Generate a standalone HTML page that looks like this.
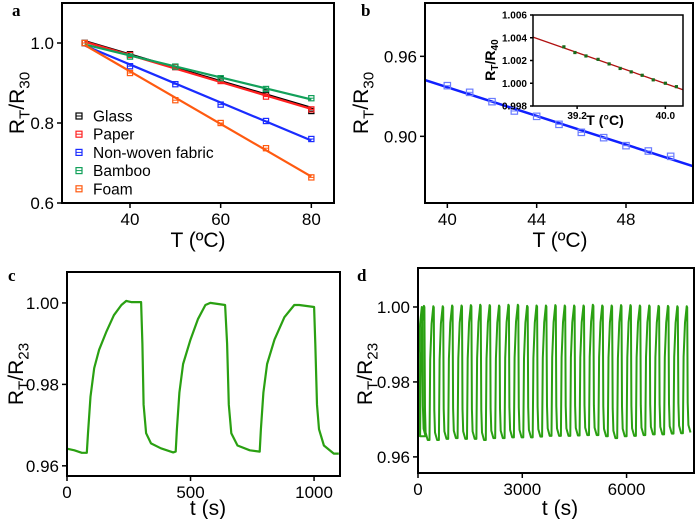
<!DOCTYPE html>
<html><head><meta charset="utf-8">
<style>
html,body{margin:0;padding:0;background:#fff;}
svg{display:block;font-family:"Liberation Sans",Arial,sans-serif;}
</style></head>
<body>
<svg id="fig" width="700" height="519" viewBox="0 0 700 519" xmlns="http://www.w3.org/2000/svg"></svg>
<script>
// ---------- Panel a data ----------
const aTemps = [30, 40, 50, 60, 70, 80];
const aSeriesNames = ["Glass", "Paper", "Non-woven fabric", "Bamboo", "Foam"];
const aGlass = [1, 0.972, 0.940, 0.910, 0.876, 0.830];
const aPaper = [1, 0.970, 0.940, 0.905, 0.866, 0.834];
const aNonwoven = [1, 0.942, 0.897, 0.846, 0.805, 0.760];
const aBamboo = [1, 0.966, 0.941, 0.912, 0.885, 0.862];
const aFoam = [1, 0.925, 0.857, 0.800, 0.737, 0.664];
const aColors = ["#000000", "#ff2020", "#1a2cff", "#12a05a", "#ff5a10"];
const aXTicks = [40, 60, 80];
const aYTicks = [0.6, 0.8, 1.0];
const aYTickLabels = ["0.6", "0.8", "1.0"];
// ---------- Panel b data ----------
const bTemps = [40, 41, 42, 43, 44, 45, 46, 47, 48, 49, 50];
const bValues = [0.938, 0.933, 0.926, 0.919, 0.915, 0.909, 0.903, 0.899, 0.893, 0.889, 0.885];
const bXTicks = [40, 44, 48];
const bYTicks = [0.90, 0.96];
const bYTickLabels = ["0.90", "0.96"];
const insetTemps = [39.08, 39.18, 39.28, 39.39, 39.49, 39.59, 39.69, 39.79, 39.89, 40.0, 40.1];
const insetValues = [1.0032, 1.0027, 1.0024, 1.0021, 1.0017, 1.0013, 1.0010, 1.0007, 1.0003, 1.0000, 0.9997];
const insetXTicks = [39.2, 40.0];
const insetYTicks = [0.998, 1.000, 1.002, 1.004, 1.006];
const insetYTickLabels = ["0.998", "1.000", "1.002", "1.004", "1.006"];
// ---------- Panel c data ----------
const cTimes = [0,30,60,80,85,95,110,130,160,190,220,240,260,300,305,310,320,340,380,430,440,445,455,470,500,530,560,580,640,648,655,665,690,740,780,785,795,810,840,880,920,940,1000,1005,1012,1020,1040,1080,1100];
const cValues = [0.9642,0.9638,0.9632,0.9632,0.968,0.977,0.984,0.9885,0.993,0.997,0.9995,1.0005,1.0002,1.0002,0.990,0.975,0.968,0.9655,0.9643,0.9633,0.9635,0.969,0.978,0.985,0.991,0.996,0.9995,1.000,0.9995,0.990,0.975,0.968,0.965,0.9638,0.9635,0.969,0.978,0.985,0.991,0.9965,0.9995,0.9995,0.999,0.990,0.975,0.969,0.965,0.963,0.963];
const cXTicks = [0, 500, 1000];
const cYTicks = [0.96, 0.98, 1.00];
const cYTickLabels = ["0.96", "0.98", "1.00"];
// ---------- Panel d data ----------
const dCycleStarts = [0,60,330,600,870,1140,1410,1680,1950,2220,2490,2760,3030,3300,3570,3840,4110,4380,4650,4920,5190,5460,5730,6000,6270,6540,6810,7080,7350,7620];
const dPeaks = [1.0,1.0003,1.0002,1.0002,1.0004,1.0004,1.0005,1.0006,1.0005,1.0004,1.0006,1.0006,1.0003,1.0004,1.0004,1.0005,1.0004,1.0004,1.0004,1.0006,1.0004,1.0004,1.0005,1.0005,1.0004,1.0004,1.0003,1.0003,1.0002,1.0002];
const dTroughs = [0.9655,0.9645,0.9645,0.9648,0.9650,0.9648,0.9648,0.9645,0.9650,0.9650,0.9652,0.9652,0.9652,0.9654,0.9656,0.9656,0.9656,0.9657,0.9658,0.9658,0.9655,0.9650,0.9655,0.9656,0.9658,0.9660,0.9660,0.9662,0.9663,0.9665];
const dXTicks = [0, 3000, 6000];
const dYTicks = [0.96, 0.98, 1.00];
const dYTickLabels = ["0.96", "0.98", "1.00"];

const NS = "http://www.w3.org/2000/svg";
const svg = document.getElementById("fig");
function mk(tag, attrs, parent) {
  const e = document.createElementNS(NS, tag);
  for (const k in attrs) e.setAttribute(k, attrs[k]);
  (parent || svg).appendChild(e);
  return e;
}
function scale(d0, d1, r0, r1) { return v => r0 + (v - d0) / (d1 - d0) * (r1 - r0); }
function txt(x, y, s, size, anchor, parent, extra) {
  const t = mk("text", Object.assign({x: x, y: y, "font-size": size, "text-anchor": anchor || "middle", fill: "#000"}, extra || {}), parent);
  t.textContent = s;
  return t;
}
function frame(g, x0, y0, x1, y1, sw) {
  const r = mk("rect", {x: x0, y: y0, width: x1 - x0, height: y1 - y0, fill: "none", stroke: "#000", "stroke-width": sw || 2}, g);
  
  
}
function xTicks(g, sx, ticks, labels, yb, fs, len, extra) {
  ticks.forEach((t, i) => {
    const tk = mk("line", {x1: sx(t), x2: sx(t), y1: yb, y2: yb + len, stroke: "#000", "stroke-width": 1.5}, g);
    
    
    const l = txt(sx(t), yb + len + fs, labels[i], fs, "middle", g, extra);
    
    
  });
}
function yTicks(g, sy, ticks, labels, xl, fs, len, extra) {
  ticks.forEach((t, i) => {
    const tk = mk("line", {x1: xl - len, x2: xl, y1: sy(t), y2: sy(t), stroke: "#000", "stroke-width": 1.5}, g);
    
    
    const l = txt(xl - len - 3, sy(t) + fs * 0.36, labels[i], fs, "end", g, extra);
    
    
  });
}
function yTitle(g, x, y, sub, fs) {
  const t = mk("text", {x: x, y: y, "font-size": fs, "text-anchor": "middle", transform: `rotate(-90 ${x} ${y})`, fill: "#000"}, g);
  t.innerHTML = `R<tspan font-size="${fs*0.72}" dy="${fs*0.25}">T</tspan><tspan dy="${-fs*0.25}">/R</tspan><tspan font-size="${fs*0.72}" dy="${fs*0.25}">${sub}</tspan>`;
  
  
}
function panelLabel(x, y, s) {
  const t = txt(x, y, s, 17, "start", svg, {"font-family": "Liberation Serif, serif", "font-weight": "bold"});
  
  
}
function linfit(xs, ys) {
  const n = xs.length; let mx = 0, my = 0;
  xs.forEach((x, i) => { mx += x; my += ys[i]; }); mx /= n; my /= n;
  let num = 0, den = 0;
  xs.forEach((x, i) => { num += (x - mx) * (ys[i] - my); den += (x - mx) ** 2; });
  const m = num / den; return [m, my - m * mx];
}
function sqMarker(g, x, y, c, s) {
  mk("rect", {x: x - s, y: y - s, width: 2 * s, height: 2 * s, fill: "none", stroke: c, "stroke-width": 1.2}, g);
  mk("line", {x1: x - s, x2: x + s, y1: y, y2: y, stroke: c, "stroke-width": 1}, g);
}

// ===== Panel a =====
(function () {
  const g = mk("g", {});  
  const sx = scale(25, 85, 62, 334), sy = scale(0.6, 1.1, 203, 3);
  const series = [aGlass, aPaper, aNonwoven, aBamboo, aFoam];
  series.forEach((vals, si) => {
    const sg = mk("g", {}, g);
    
    
    const [m, b] = linfit(aTemps, vals);
    mk("line", {x1: sx(30), y1: sy(m * 30 + b), x2: sx(80), y2: sy(m * 80 + b), stroke: aColors[si], "stroke-width": 2.2}, sg);
    vals.forEach((v, i) => sqMarker(sg, sx(aTemps[i]), sy(v), aColors[si], 2.6));
  });
  frame(g, 62, 3, 334, 203);
  xTicks(g, sx, aXTicks, aXTicks.map(String), 203, 17, 5);
  yTicks(g, sy, aYTicks, aYTickLabels, 62, 17, 5);
  const xt = txt(198, 247, "T (\u00baC)", 21, "middle", g);
   
  yTitle(g, 24, 103, "30", 21);
  aSeriesNames.forEach((n, i) => {
    const y = 116 + i * 18.2;
    const lg = mk("g", {}, g);
    
    
    sqMarker(lg, 79, y, aColors[i], 3);
    txt(93, y + 5.5, n, 15.5, "start", lg);
  });
})();
panelLabel(12, 16, "a");

// ===== Panel b =====
(function () {
  const g = mk("g", {});  
  const sx = scale(39, 51, 425, 693), sy = scale(0.85, 1.0, 203, 3);
  const [m, b] = linfit(bTemps, bValues);
  const fl = mk("line", {x1: sx(39), y1: sy(m * 39 + b), x2: sx(51), y2: sy(m * 51 + b), stroke: "#1020ff", "stroke-width": 2.5}, g);
   
  bValues.forEach((v, i) => sqMarker(g, sx(bTemps[i]), sy(v), "#6a7cff", 3.2));
  frame(g, 425, 3, 693, 203);
  xTicks(g, sx, bXTicks, bXTicks.map(String), 203, 17, 5);
  yTicks(g, sy, bYTicks, bYTickLabels, 425, 17, 5);
  const xt = txt(560, 247, "T (\u00baC)", 21, "middle", g);
   
  yTitle(g, 368, 103, "30", 21);
  // inset
  const ig = mk("g", {}, g);  
  const ix = scale(38.8, 40.16, 533, 683), iy = scale(0.998, 1.006, 106, 15);
  const [im, ib] = linfit(insetTemps, insetValues);
  const il = mk("line", {x1: ix(38.8), y1: iy(im * 38.8 + ib), x2: ix(40.16), y2: iy(im * 40.16 + ib), stroke: "#b01010", "stroke-width": 1.3}, ig);
   
  insetValues.forEach((v, i) => mk("rect", {x: ix(insetTemps[i]) - 1.6, y: iy(v) - 1.6, width: 3.2, height: 3.2, fill: "#1a6a1a"}, ig));
  frame(ig, 533, 15, 683, 106, 1.5);
  xTicks(ig, ix, insetXTicks, insetXTicks.map(v => v.toFixed(1)), 106, 10, 3, {"font-weight": "bold"});
  yTicks(ig, iy, insetYTicks, insetYTickLabels, 533, 10, 3, {"font-weight": "bold"});
  const it = txt(605, 125, "T (\u00b0C)", 14, "middle", ig, {"font-weight": "bold"});
   
  const tx = 529 - 34, ty = 60;
  const yt = mk("text", {x: tx, y: ty, "font-size": 14, "font-weight": "bold", "text-anchor": "middle", transform: `rotate(-90 ${tx} ${ty})`}, ig);
  yt.innerHTML = 'R<tspan font-size="10" dy="3">T</tspan><tspan dy="-3">/R</tspan><tspan font-size="10" dy="3">40</tspan>';
   
})();
panelLabel(361, 16, "b");

// ===== Panel c =====
(function () {
  const g = mk("g", {});  
  const sx = scale(0, 1105, 67, 340), sy = scale(0.9575, 1.0076, 476, 272);
  const d = cTimes.map((t, i) => (i ? "L" : "M") + sx(t).toFixed(1) + "," + sy(cValues[i]).toFixed(1)).join("");
  const p = mk("path", {d: d, fill: "none", stroke: "#2aa012", "stroke-width": 2.2, "stroke-linejoin": "round"}, g);
   
  frame(g, 67, 272, 340, 476);
  xTicks(g, sx, cXTicks, cXTicks.map(String), 476, 17, 5);
  yTicks(g, sy, cYTicks, cYTickLabels, 67, 17, 5);
  const xt = txt(208, 515, "t (s)", 21, "middle", g);
   
  yTitle(g, 23, 374, "23", 21);
})();
panelLabel(8, 281, "c");

// ===== Panel d =====
(function () {
  const g = mk("g", {});  
  const sx = scale(0, 7940, 418, 694), sy = scale(0.9557, 1.0104, 473, 268);
  let d = "";
  dCycleStarts.forEach((t0, i) => {
    const pk = dPeaks[i], tr = dTroughs[i];
    const prevTr = i ? dTroughs[i - 1] : tr;
    const pts = [[t0, prevTr], [t0 + 20, prevTr + (pk - prevTr) * 0.6], [t0 + 60, prevTr + (pk - prevTr) * 0.87], [t0 + 110, pk], [t0 + 125, pk - 0.0003], [t0 + 140, tr + 0.008], [t0 + 160, tr + 0.002], [t0 + 220, tr]];
    if (i === 0) pts.splice(0, 1, [0, 0.9655], [t0 + 10, 0.9655]);
    pts.forEach((q, j) => { d += (d ? "L" : "M") + sx(q[0]).toFixed(1) + "," + sy(q[1]).toFixed(1); });
  });
  const p = mk("path", {d: d, fill: "none", stroke: "#2aa012", "stroke-width": 2, "stroke-linejoin": "round"}, g);
   
  frame(g, 418, 268, 694, 473);
  xTicks(g, sx, dXTicks, dXTicks.map(String), 473, 17, 5);
  yTicks(g, sy, dYTicks, dYTickLabels, 418, 17, 5);
  const xt = txt(560, 515, "t (s)", 21, "middle", g);
   
  yTitle(g, 372, 374, "23", 21);
})();
panelLabel(357, 281, "d");
</script>
</body></html>
